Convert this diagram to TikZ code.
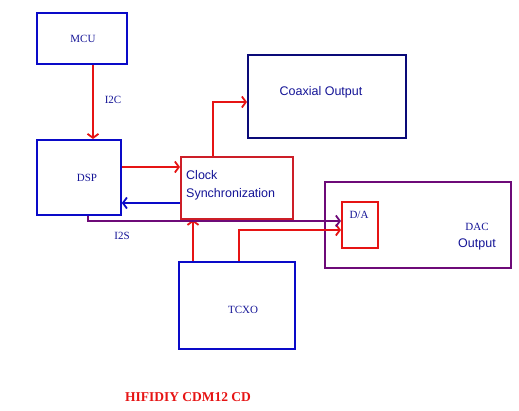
\documentclass[tikz,border=0pt]{standalone}
\usepackage{fontspec}
\setmainfont{Liberation Serif}
\newfontfamily\arialf{Liberation Sans}
\usetikzlibrary{arrows.meta}
\definecolor{cred}{RGB}{230,20,20}
\definecolor{cboxred}{RGB}{205,30,40}
\definecolor{cblue}{RGB}{10,10,200}
\definecolor{cnavy}{RGB}{10,10,120}
\definecolor{cpurple}{RGB}{110,10,120}
\definecolor{ctext}{RGB}{20,20,150}
\begin{document}
\begin{tikzpicture}[x=1pt,y=-1pt,
  box/.style={draw, line width=1.8pt, anchor=north west, inner sep=0pt},
  lbl/.style={text=ctext, font=\fontsize{11}{13}\selectfont, inner sep=0pt},
  slbl/.style={text=ctext, font=\arialf\fontsize{12.5}{15}\selectfont, inner sep=0pt},
  conn/.style={line width=1.8pt},
  arr/.style={conn, -{Straight Barb[length=4pt,width=11pt]}}]
\useasboundingbox (0,0) rectangle (519,411);
% helper coordinates
\coordinate (x93) at (93,0);
\coordinate (x88) at (88,0);
\coordinate (x193) at (193,0);
\coordinate (x213) at (213,0);
\coordinate (x239) at (239,0);
\coordinate (y102) at (0,102);
\coordinate (y167) at (0,167);
\coordinate (y203) at (0,203);
\coordinate (y221) at (0,221);
\coordinate (y230) at (0,230);
% boxes
\node[box, draw=cblue, minimum width=90pt, minimum height=51pt] (mcu) at (36,12) {};
\node[box, draw=cblue, minimum width=84pt, minimum height=75pt] (dsp) at (36,139) {};
\node[box, draw=cnavy, minimum width=158pt, minimum height=83pt] (coax) at (247,54) {};
\node[box, draw=cboxred, minimum width=112pt, minimum height=62pt] (clk) at (180,156) {};
\node[box, draw=cpurple, minimum width=186pt, minimum height=86pt] (dac) at (324,181) {};
\node[box, draw=cred, minimum width=36pt, minimum height=46pt] (da) at (341,201) {};
\node[box, draw=cblue, minimum width=116pt, minimum height=87pt] (tcxo) at (178,261) {};
% labels
\node[lbl] (tmcu) at (83,39) {MCU};
\node[lbl] (tdsp) at (87,178) {DSP};
\node[lbl] (ttcxo) at (243,310) {TCXO};
\node[lbl] (tda) at (359,215) {D/A};
\node[lbl] (tdac) at (477,227) {DAC};
\node[slbl] (tout) at (477,244) {Output};
\node[slbl] (tcoax) at (321,92) {Coaxial Output};
\node[slbl, anchor=west, align=left] (tclk) at (186,185) {Clock\\[3pt]Synchronization};
\node[lbl] (ti2c) at (113,100) {I2C};
\node[lbl] (ti2s) at (122,236) {I2S};
\node[text=cred, font=\bfseries\fontsize{13.5}{15}\selectfont, inner sep=0pt] (title) at (188,397) {HIFIDIY CDM12 CD};
% connectors
\draw[arr, cred] (x93 |- mcu.south) -- (x93 |- dsp.north);
\draw[arr, cred] (dsp.east |- y167) -- (clk.west |- y167);
\draw[arr, cblue] (clk.west |- y203) -- (dsp.east |- y203);
\draw[arr, cred] (x213 |- clk.north) |- (coax.west |- y102);
\draw[arr, cred] (x193 |- tcxo.north) -- (x193 |- clk.south);
\draw[arr, cred] (x239 |- tcxo.north) |- (da.west |- y230);
\draw[arr, cpurple] (x88 |- dsp.south) |- (da.west |- y221);
\end{tikzpicture}
\end{document}
